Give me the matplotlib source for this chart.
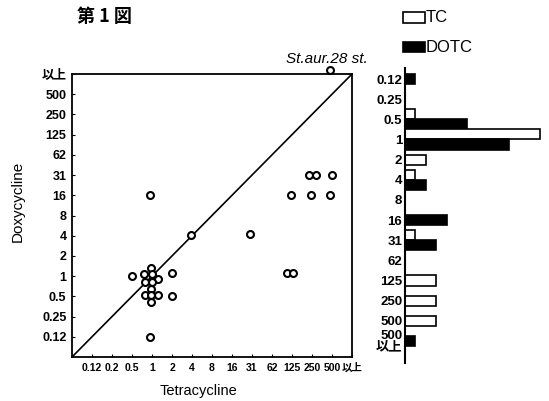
import matplotlib
matplotlib.use("Agg")
import matplotlib.pyplot as plt
from matplotlib.patches import Rectangle

plt.rcParams['font.family'] = ['Liberation Sans', 'Noto Sans CJK JP']

# ---- data ----
y_levels = ["0.12", "0.25", "0.5", "1", "2", "4", "8", "16", "31", "62", "125", "250", "500", "以上"]
x_levels = ["0.12", "0.2", "0.5", "1", "2", "4", "8", "16", "31", "62", "125", "250", "500", "以上"]

# MIC pairs per strain (Tetracycline, Doxycycline), as level labels
tc_mic = ["0.5", "1", "1", "1", "1", "1", "1", "1", "1", "1", "1", "1", "1", "1",
          "2", "2", "4", "31", "125", "125", "125", "250", "250", "250", "500", "500", "500"]
dotc_mic = ["1", "1", "1", "1", "1", "1", "1", "0.5", "0.5", "0.5", "0.5", "0.5", "16", "0.12",
            "1", "0.5", "4", "4", "16", "1", "1", "31", "31", "16", "31", "16", "以上"]
# small visual displacement of overlapping markers (in level units)
jit_x = [0, -0.05, -0.4, 0.0, 0.3, -0.35, 0.0, -0.05, -0.35, -0.05, 0.28, -0.05, -0.1, -0.1,
         0, 0, -0.05, -0.1, -0.05, -0.27, 0.03, -0.15, 0.18, -0.05, 0, -0.1, -0.1]
jit_y = [0, 0.4, 0.1, 0.1, -0.15, -0.3, -0.3, 0.35, 0.05, 0.05, 0.05, -0.3, 0, 0,
         0.15, 0, 0.05, 0.1, 0, 0.15, 0.15, 0, 0, 0, 0, 0, 0.2]

hist_levels = ["0.12", "0.25", "0.5", "1", "2", "4", "8", "16", "31", "62", "125", "250", "500", "500\n以上"]
tc_counts = [0, 0, 1, 13, 2, 1, 0, 0, 1, 0, 3, 3, 3, 0]
dotc_counts = [1, 0, 6, 10, 0, 2, 0, 4, 3, 0, 0, 0, 0, 1]

# ---- figure ----
fig = plt.figure(figsize=(5.49, 4.01), dpi=100)

ax = fig.add_axes([72/549, 1-357/401, 280/549, 283/401])
xi = [x_levels.index(v) + dx for v, dx in zip(tc_mic, jit_x)]
yi = [y_levels.index(v) + dy for v, dy in zip(dotc_mic, jit_y)]
ax.plot([-1, 13], [-1, 13], color='black', lw=1.2)
ax.plot(xi, yi, linestyle='none', marker='o', ms=5, mfc='white', mec='black', mew=1.5,
        clip_on=False, zorder=3)
ax.set_xlim(-1, 13)
ax.set_ylim(-1, 13)
ax.set_xticks(range(len(x_levels)))
ax.set_xticklabels(x_levels, fontsize=7.5, fontweight='bold')
ax.set_yticks(range(len(y_levels)))
ax.set_yticklabels(y_levels, fontsize=9, fontweight='bold')
ax.tick_params(axis='both', direction='in', length=2, width=0.8, pad=4)
for s in ax.spines.values():
    s.set_linewidth(1.3)
ax.set_xlabel("Tetracycline", fontsize=10.5)
ax.xaxis.set_label_coords(0.45, -0.095)
ax.set_ylabel("Doxycycline", fontsize=11)
ax.yaxis.set_label_coords(-0.17, 0.55)
ax.text(11.75, 13.4, "St.aur.28 st.", fontsize=11, style='italic', ha='center', va='bottom')

fig.text(77/549, 1-17/401, "第 1 図", fontsize=13, fontweight='bold', va='center', ha='left',
         family=['Noto Sans CJK JP'])

# ---- histogram ----
hx = fig.add_axes([405/549, 1-363/401, 140/549, 295/401])
h = 0.5
for i, (t, d) in enumerate(zip(tc_counts, dotc_counts)):
    if t and d:
        yt, yd = i - h/2, i + h/2
    else:
        yt = yd = i
    if t:
        hx.barh(yt, t, height=h, color='white', edgecolor='black', lw=1.2)
    if d:
        hx.barh(yd, d, height=h, color='black', edgecolor='black', lw=1.2)
hx.set_xlim(0, 140/10.4)
hx.set_ylim((363-79)/20.15, -11/20.15)
hx.set_yticks(range(len(hist_levels)))
hx.set_yticklabels(hist_levels, fontsize=9.5, fontweight='bold', linespacing=0.85)
hx.tick_params(axis='y', length=0, pad=2)
hx.set_xticks([])
for k in ['top', 'right', 'bottom']:
    hx.spines[k].set_visible(False)
hx.spines['left'].set_linewidth(1.5)

# legend
fig.add_artist(Rectangle((403/549, 1-23/401), 22/549, 11/401, transform=fig.transFigure,
                         facecolor='white', edgecolor='black', lw=1.2))
fig.add_artist(Rectangle((403/549, 1-52/401), 22/549, 10/401, transform=fig.transFigure,
                         facecolor='black', edgecolor='black', lw=1.2))
fig.text(426/549, 1-17/401, "TC", fontsize=12, va='center', ha='left')
fig.text(426/549, 1-47/401, "DOTC", fontsize=12, va='center', ha='left')

fig.savefig("out.png", dpi=100)
